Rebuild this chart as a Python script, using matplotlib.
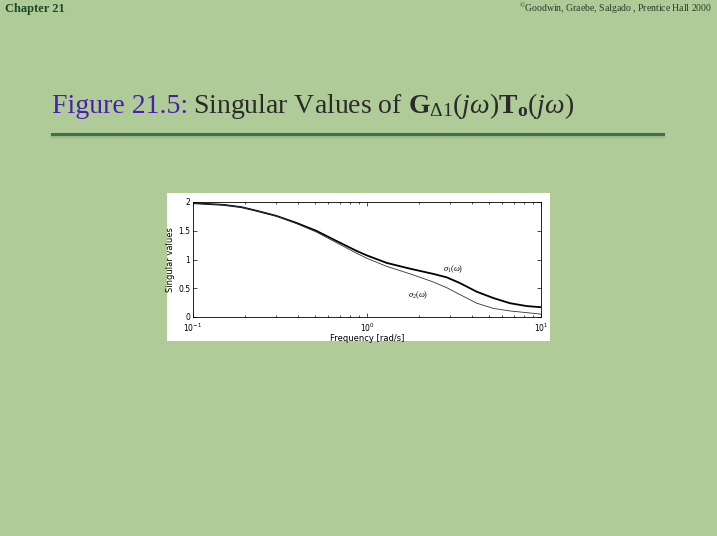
import matplotlib
matplotlib.use("Agg")
import matplotlib.pyplot as plt
from matplotlib.patches import Rectangle
from matplotlib.lines import Line2D

# frequency grid [rad/s] and singular values
freq = [0.1, 0.15, 0.19, 0.23, 0.30, 0.39, 0.51, 0.67, 0.87, 1.0,
        1.3, 1.77, 2.4, 2.87, 3.42, 4.27, 5.32, 6.63, 8.28, 10.0]
sigma1 = [1.98, 1.95, 1.91, 1.85, 1.76, 1.64, 1.50, 1.32, 1.15, 1.07,
          0.94, 0.84, 0.75, 0.69, 0.59, 0.44, 0.33, 0.24, 0.19, 0.17]
sigma2 = [1.98, 1.95, 1.91, 1.85, 1.76, 1.63, 1.48, 1.29, 1.11, 1.02,
          0.88, 0.75, 0.61, 0.51, 0.39, 0.24, 0.15, 0.105, 0.076, 0.05]

plt.rcParams['mathtext.fontset'] = 'custom'
plt.rcParams['mathtext.rm'] = 'Liberation Serif'
plt.rcParams['mathtext.it'] = 'Liberation Serif:italic'
plt.rcParams['mathtext.bf'] = 'Liberation Serif:bold'

W, H = 717, 536
fig = plt.figure(figsize=(W / 100, H / 100), dpi=100)
fig.patch.set_facecolor('#afcb98')

# header texts
fig.text(5 / W, 1 - 9 / H, 'Chapter 21', fontsize=9, fontweight='bold',
         family='Liberation Serif', color='#1f4a26', va='center', ha='left')
fig.text(712 / W, 1 - 8 / H, '$^{\\copyright}$Goodwin, Graebe, Salgado , Prentice Hall 2000',
         fontsize=7, family='Liberation Serif', color='#2a3a2a', va='center', ha='right')

# slide title
t1 = fig.text(52 / W, 1 - 113 / H, 'Figure 21.5:', fontsize=20, family='Liberation Serif',
              color='#4a1fb0', va='baseline', ha='left')
fig.canvas.draw()
bb = t1.get_window_extent()
fig.text(bb.x1 / W + 5 / W, 1 - 113 / H,
         r'Singular Values of $\mathbf{G}_{\Delta 1}(j\omega)\mathbf{T}_{\mathbf{o}}(j\omega)$',
         fontsize=20, family='Liberation Serif', color='#2a2a2a', va='baseline', ha='left')

# rule under the title
fig.add_artist(Line2D([52 / W, 663 / W], [1 - 136 / H, 1 - 136 / H], color='#9cb98a', lw=2.5))
fig.add_artist(Line2D([52 / W, 663 / W], [1 - 134 / H, 1 - 134 / H], color='#3f7048', lw=2.2))

# white panel behind the plot
fig.add_artist(Rectangle((167 / W, 1 - 341 / H), (550 - 167) / W, (341 - 193) / H,
                         transform=fig.transFigure, facecolor='white', edgecolor='none',
                         zorder=-1))

ax = fig.add_axes([193 / W, 1 - 317 / H, (541 - 193) / W, (317 - 202) / H])
ax.set_facecolor('white')
ax.semilogx(freq, sigma1, color='black', lw=1.3)
ax.semilogx(freq, sigma2, color='#333333', lw=0.6)
ax.set_xlim(0.1, 10)
ax.set_ylim(0, 2)
ax.set_yticks([0, 0.5, 1, 1.5, 2])
ax.set_yticklabels(['0', '0.5', '1', '1.5', '2'])
ax.tick_params(which='both', direction='in', top=True, right=True, labelsize=5.5, pad=2)
ax.tick_params(axis='x', pad=3)
ax.tick_params(which='major', length=3, width=0.5)
ax.tick_params(which='minor', length=1.5, width=0.5)
for s in ax.spines.values():
    s.set_linewidth(0.6)
ax.set_xlabel('Frequency [rad/s]', fontsize=6, labelpad=0.5)
ax.set_ylabel('Singular values', fontsize=6, labelpad=2)

ax.text(2.75, 0.84, r'$\sigma_1(\omega)$', fontsize=6, ha='left', va='center')
ax.text(1.72, 0.38, r'$\sigma_2(\omega)$', fontsize=6, ha='left', va='center')

fig.savefig('out.png', dpi=100, facecolor=fig.get_facecolor())
